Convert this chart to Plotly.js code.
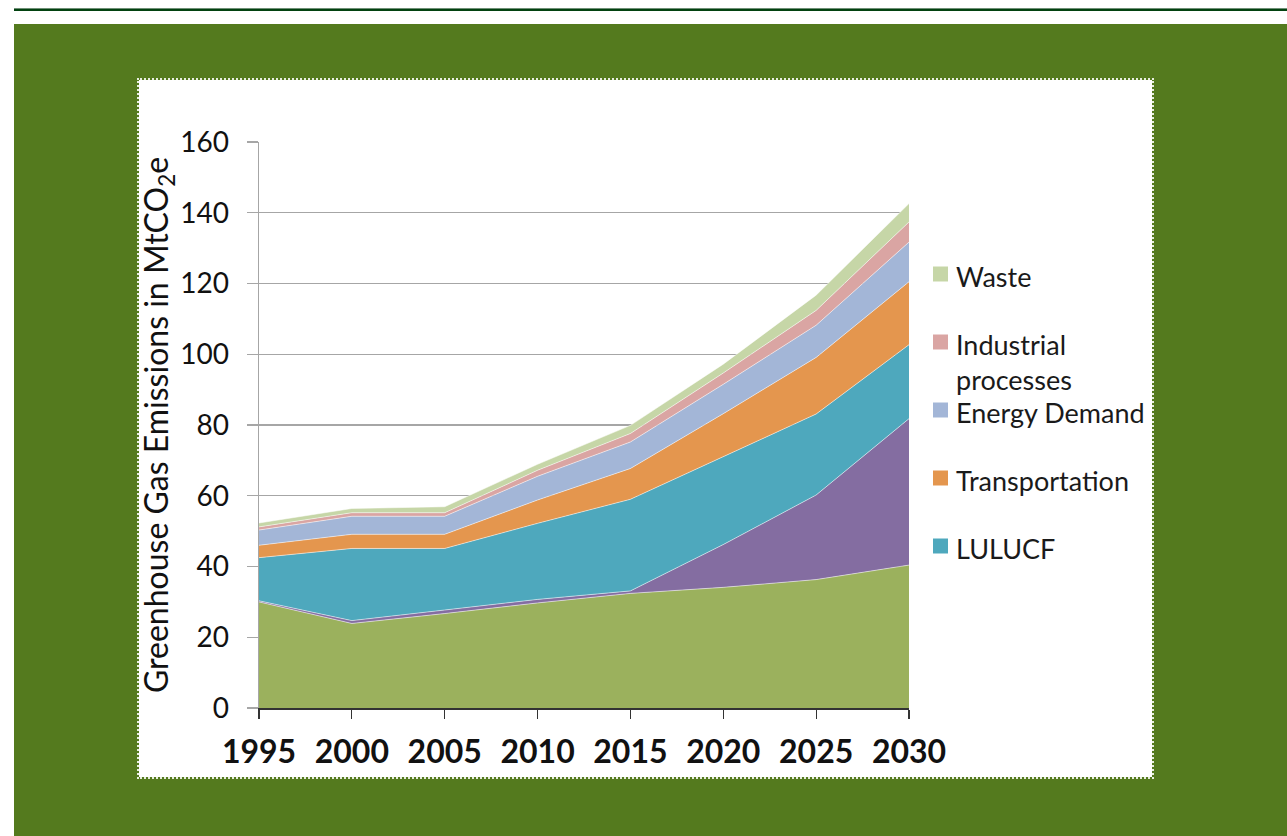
<!DOCTYPE html>
<html>
<head>
<meta charset="utf-8">
<script src="https://cdn.plot.ly/plotly-3.0.1.min.js"></script>
<style>
  html, body { margin: 0; padding: 0; background: #ffffff; width: 1287px; height: 836px; overflow: hidden; }
  #topline { position: absolute; left: 14px; top: 8px; width: 1273px; height: 3px; background: #024210; border-top: 1px solid #6f8f76; box-sizing: border-box; }
  #frame { position: absolute; left: 14px; top: 24px; width: 1273px; height: 812px; background: #547A1E; }
  #panel { position: absolute; left: 139px; top: 80px; width: 1013px; height: 697px; background: #ffffff; outline: 2px dotted #e8eedf; }
  #chart { position: absolute; left: 0; top: 0; width: 1287px; height: 836px; }
</style>
</head>
<body>
<div id="topline"></div>
<div id="frame"></div>
<div id="panel"></div>
<div id="chart"></div>
<script>
// ---- data (MtCO2e) ----
var years = [1995, 2000, 2005, 2010, 2015, 2020, 2025, 2030];
var agriculture    = [30.0, 23.9, 26.7, 29.7, 32.4, 34.1, 36.3, 40.4];
var energySupply   = [0.3, 0.8, 1.0, 1.0, 0.7, 12.1, 23.9, 41.4];
var lulucf         = [12.2, 20.4, 17.4, 21.5, 25.9, 24.8, 22.9, 20.9];
var transportation = [3.5, 4.0, 4.0, 6.6, 8.7, 12.2, 16.0, 17.8];
var energyDemand   = [4.3, 5.1, 5.1, 6.7, 7.5, 8.3, 9.1, 11.2];
var industrial     = [0.9, 1.0, 1.0, 1.7, 2.4, 3.2, 4.2, 5.7];
var waste          = [1.1, 1.2, 1.7, 1.7, 2.3, 2.5, 4.3, 5.2];

var seriesNames  = ['Agriculture', 'Energy Supply', 'LULUCF', 'Transportation', 'Energy Demand', 'Industrial processes', 'Waste'];
var seriesValues = [agriculture, energySupply, lulucf, transportation, energyDemand, industrial, waste];
var seriesColors = ['#9BB15D', '#846DA1', '#4EA8BD', '#E4964E', '#A3B6D7', '#DAA5A3', '#C6D6A7'];
var legendNames  = ['Waste', 'Industrial processes', 'Energy Demand', 'Transportation', 'LULUCF'];
var legendLabels = ['Waste', 'Industrial<br>processes', 'Energy Demand', 'Transportation', 'LULUCF'];

var yTickVals = [0, 20, 40, 60, 80, 100, 120, 140, 160];
var xTickVals = years;

var traces = seriesNames.map(function (n, i) {
  return {
    type: 'scatter', mode: 'lines', name: n,
    x: years, y: seriesValues[i],
    stackgroup: 'one',
    fillcolor: seriesColors[i],
    line: { color: 'rgba(255,255,255,0.65)', width: 0.8 },
    hoverinfo: 'x+y+name', showlegend: false
  };
});

// plot area in pixels
var L = 259, R = 909, T = 142, B = 708;
function px(x) { return (x - L) / (R - L); }
function py(y) { return (B - y) / (B - T); }

var FONT = 'Lato, "Open Sans", sans-serif';
var legendTop = 274, legendStep = 68;
var shapes = [], annotations = [];
legendNames.forEach(function (n, k) {
  var idx = seriesNames.indexOf(n);
  var cy = legendTop + k * legendStep;
  shapes.push({
    type: 'rect', xref: 'paper', yref: 'paper',
    xsizemode: 'pixel', ysizemode: 'pixel',
    xanchor: px(940.5), yanchor: py(cy),
    x0: -7.5, x1: 7.5, y0: -7.5, y1: 7.5,
    fillcolor: seriesColors[idx], line: { width: 0 }
  });
  annotations.push({
    xref: 'paper', yref: 'paper', x: px(954), y: py(cy - 16),
    xanchor: 'left', yanchor: 'top', align: 'left', showarrow: false,
    text: legendLabels[k],
    font: { family: FONT, size: 27, color: '#1a1a1a' }
  });
});

var layout = {
  width: 1287, height: 836,
  margin: { l: L, r: 1287 - R, t: T, b: 836 - B, pad: 0 },
  paper_bgcolor: 'rgba(0,0,0,0)', plot_bgcolor: 'rgba(0,0,0,0)',
  showlegend: false,
  xaxis: {
    range: [1995, 2030], tickvals: xTickVals, ticktext: xTickVals.map(String),
    showgrid: false, zeroline: false,
    showline: true, linecolor: '#333333', linewidth: 1.5,
    ticks: 'outside', ticklen: 9, tickwidth: 1.2, tickcolor: '#333333',
    ticklabelstandoff: 6,
    tickfont: { family: FONT, size: 32, color: '#111111', weight: 'bold' },
    fixedrange: true
  },
  yaxis: {
    range: [0, 160], tickvals: yTickVals,
    showgrid: true, gridcolor: '#a6a6a6', gridwidth: 1.2,
    zeroline: false, showline: true, linecolor: '#a6a6a6', linewidth: 1.5,
    ticks: 'outside', ticklen: 11, tickcolor: '#a6a6a6', tickwidth: 1.2,
    ticklabelstandoff: 12,
    tickfont: { family: FONT, size: 28, color: '#111111' },
    title: { text: 'Greenhouse Gas Emissions in MtCO<sub>2</sub>e', font: { family: FONT, size: 32, color: '#111111' }, standoff: 0 },
    fixedrange: true
  },
  shapes: shapes,
  annotations: annotations
};

Plotly.newPlot('chart', traces, layout, { displayModeBar: false, staticPlot: true });
</script>
</body>
</html>
